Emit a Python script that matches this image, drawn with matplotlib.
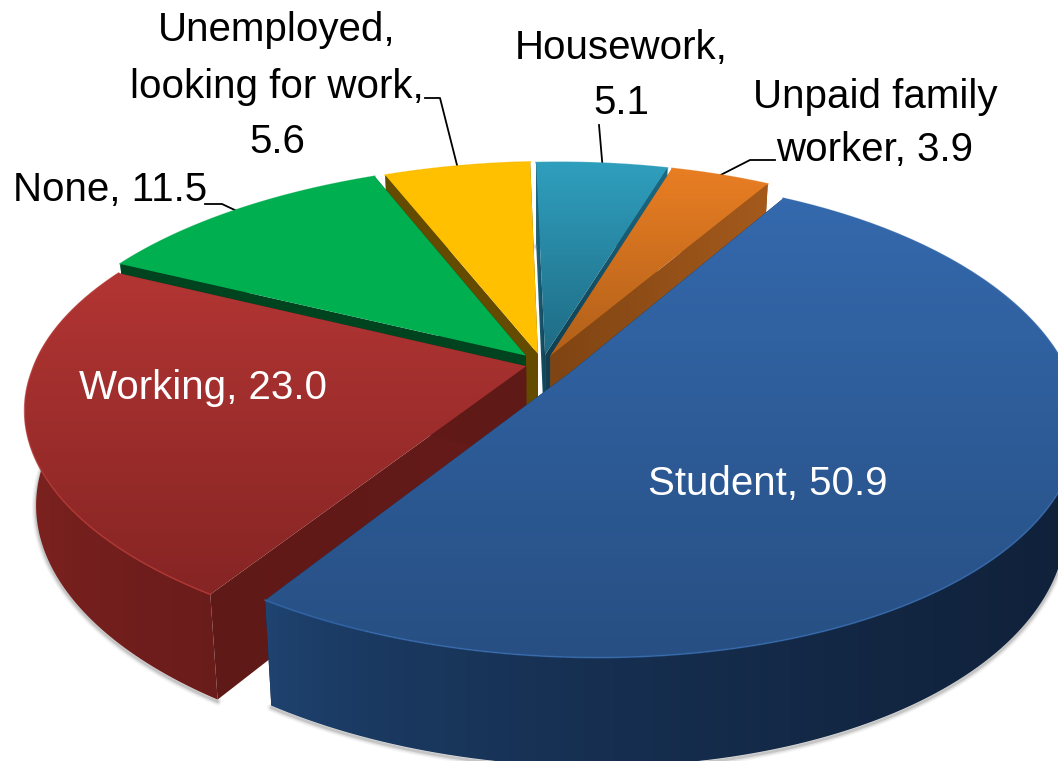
import numpy as np
import matplotlib
matplotlib.use("Agg")
import matplotlib.pyplot as plt
from matplotlib.patches import Polygon
from matplotlib.colors import LinearSegmentedColormap

# ---- data ----
categories = ["Student", "Working", "None", "Unemployed, looking for work", "Housework", "Unpaid family worker"]
values = [50.9, 23.0, 11.5, 5.6, 5.1, 3.9]

# ---- style ----
top_from = ["#3469ad", "#b23533", "#00b050", "#ffc000", "#2f9fbe", "#e97e23"]
top_to = ["#274f83", "#862524", "#00b050", "#ffc000", "#1f6b84", "#b1601a"]
outer_from = ["#1f4472", "#7f2320", "#006030", "#806000", "#17505f", "#8f5015"]
outer_to = ["#10213a", "#6a1c1b", "#004020", "#604800", "#103c48", "#704010"]
cut_start = ["#10213a", "#5f1917", "#00431f", "#644b00", "#1c6a84", "#a55a1c"]
cut_end = ["#10213a", "#651b1a", "#00431f", "#644b00", "#113e50", "#7f4413"]
explode = [0.065, 0.035, 0.05, 0.045, 0.04, 0.04]
radius = [0.985, 0.995, 1.0, 1.0, 1.0, 1.0]

FONT = ["Liberation Sans", "DejaVu Sans"]
START, CX, CY, A, B, P, D, K = 32.0, 543.0, 364.0, 497.0, 232.0, 0.19, 93.0, 0.022
SHEAR, BACK, TILT = 34.0, 7.0, 8.0

fig = plt.figure(figsize=(10.58, 7.61), dpi=100)
ax = fig.add_axes([0, 0, 1, 1])
ax.set_xlim(0, 1058)
ax.set_ylim(761, 0)
ax.axis("off")


def project(x, y, z=0.0):
    x, y = np.asarray(x, float), np.asarray(y, float)
    s = 1.0 / (1.0 - P * y)
    k = 1.0 - K * z
    X = CX + (A * x * s + SHEAR * (y + y * y) / 2 + BACK * np.minimum(y, 0)) * k
    Y = CY + (B * y * s - TILT * x) * k + D * z * s
    return np.column_stack([X, Y])


def gradient_poly(pts, c0, c1, horizontal, zorder, power=1.0):
    poly = Polygon(pts, closed=True, facecolor="none", edgecolor="none", transform=ax.transData)
    ax.add_patch(poly)
    xmin, ymin = pts.min(axis=0)
    xmax, ymax = pts.max(axis=0)
    grad = np.linspace(0, 1, 128) ** power
    grad = grad[None, :] if horizontal else grad[:, None]
    cmap = LinearSegmentedColormap.from_list("g", [c0, c1])
    im = ax.imshow(grad, cmap=cmap, vmin=0, vmax=1, extent=(xmin, xmax, ymax, ymin),
                   origin="upper", aspect="auto", zorder=zorder, interpolation="bilinear")
    im.set_clip_path(poly)
    return im


total = sum(values)
sweeps = [v / total * 360.0 for v in values]
starts = START + np.concatenate([[0], np.cumsum(sweeps)[:-1]])
mids = starts + np.array(sweeps) / 2
order = sorted(range(len(values)), key=lambda i: -np.cos(np.radians(mids[i])))

anchors = {}
z = 2.0
for i in order:
    th = np.radians(np.linspace(starts[i], starts[i] + sweeps[i], 160))
    m = np.radians(mids[i])
    ox, oy = explode[i] * np.sin(m), -explode[i] * np.cos(m)
    rx, ry = ox + radius[i] * np.sin(th), oy - radius[i] * np.cos(th)
    anchors[i] = project([ox + np.sin(m)], [oy - np.cos(m)])[0]

    tip_t, tip_b = project([ox], [oy])[0], project([ox], [oy], 1.0)[0]
    top_arc, bot_arc = project(rx, ry), project(rx, ry, 1.0)

    # soft shadow below the lower rim
    sh = bot_arc + np.array([0, 2.0])
    for lw, al in ((6, .05), (4, .09), (2, .16)):
        ax.plot(sh[:, 0], sh[:, 1], color="#303030", lw=lw, alpha=al, zorder=z, solid_capstyle="round")
    z += .01
    wall = np.vstack([top_arc, bot_arc[::-1]])
    f1 = np.array([tip_t, top_arc[0], bot_arc[0], tip_b])
    f2 = np.array([tip_t, top_arc[-1], bot_arc[-1], tip_b])
    # back slices show their cut faces over the hidden rim, front slices the other way round
    back_slice = np.cos(m) > 0
    wall_z = z if back_slice else z + .03
    gradient_poly(wall, outer_from[i], outer_to[i], True, wall_z, power=0.6)
    z += .01
    gradient_poly(f1, cut_start[i], cut_end[i], True, z); z += .01
    gradient_poly(f2, cut_end[i], cut_start[i], True, z); z += .02
    # top face
    face = np.vstack([[tip_t], top_arc])
    gradient_poly(face, top_from[i], top_to[i], False, z); z += .01
    ax.plot(top_arc[:, 0], top_arc[:, 1], color=top_from[i], lw=1.2, alpha=.8, zorder=z)
    z += .01

TXT = dict(family=FONT, fontsize=29, ha="center", va="center", zorder=50)
white = dict(TXT, color="white")
black = dict(TXT, color="black")


def lab(i):
    return f"{values[i]:.1f}"


ax.text(768, 484, f"{categories[0]}, {lab(0)}", **white)
ax.text(203, 388, f"{categories[1]}, {lab(1)}", **white)
ax.text(110, 190, f"{categories[2]}, {lab(2)}", **black)
un = categories[3].split(", ")
for y, s in zip((30, 87, 142), (un[0] + ",", un[1] + ",", lab(3))):
    ax.text(277, y, s, **black)
for y, s in zip((48, 103), (categories[4] + ",", lab(4))):
    ax.text(621, y, s, **black)
up = categories[5].rsplit(" ", 1)
for y, s in zip((97, 150), (up[0], f"{up[1]}, {lab(5)}")):
    ax.text(875, y, s, **black)

# leader lines: fixed elbows next to each label, ending on the slice rim
elbows = {2: [(205, 204), (222, 204)], 3: [(425, 98), (440, 98)], 4: [(599, 125)], 5: [(775, 160), (750, 160)]}
for i, pts in elbows.items():
    e = anchors[i]
    xs = [p[0] for p in pts] + [e[0]]
    ys = [p[1] for p in pts] + [e[1]]
    ax.plot(xs, ys, color="black", lw=1.3, zorder=1)

ax.set_xlim(0, 1058)
ax.set_ylim(761, 0)
fig.savefig("out.png", dpi=100, facecolor="white")
